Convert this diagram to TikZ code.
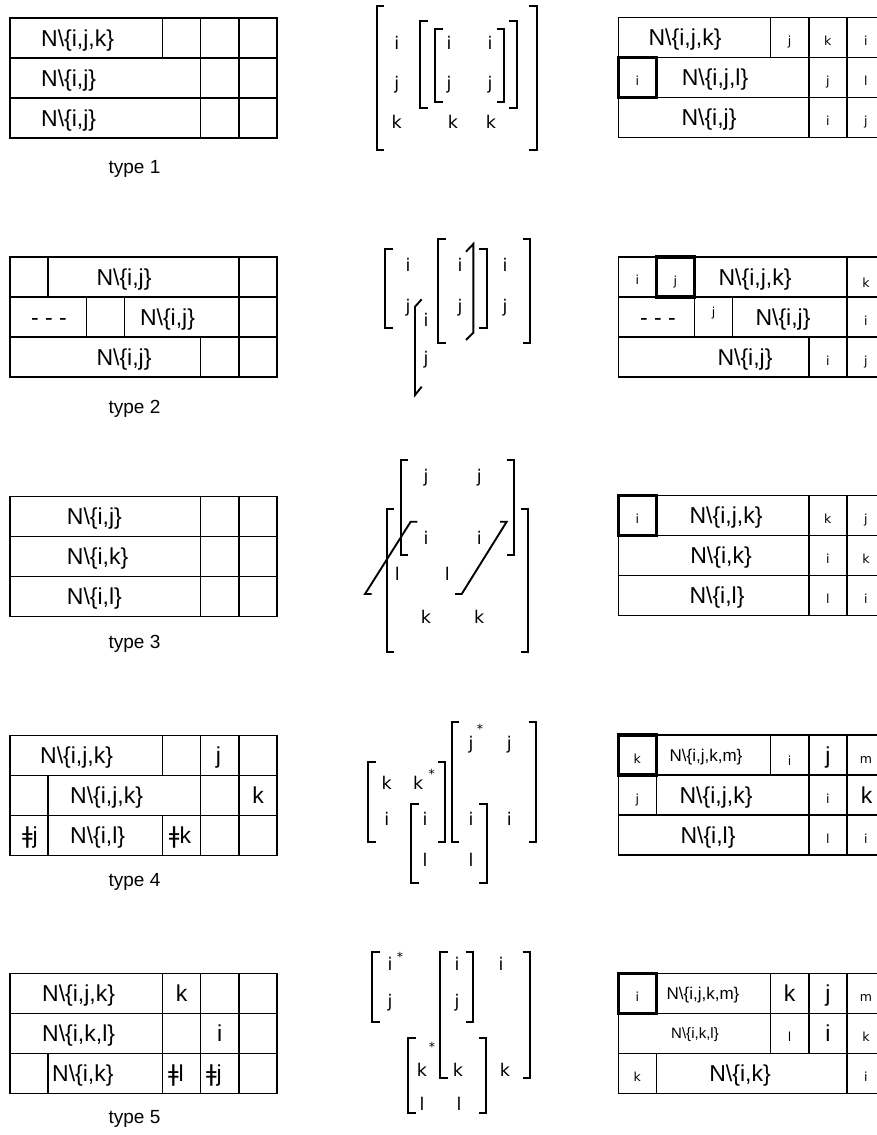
\documentclass[tikz,border=0pt]{standalone}
\usepackage{fontspec}
\setmainfont{Liberation Sans}
\newfontfamily\djv{DejaVu Sans}
\newcommand\Nset[1]{N\textbackslash\{#1\}}
\newcommand\lbr[3]{\draw[brk] (#1+7.5,#2) -- (#1,#2) -- (#1,#3) -- (#1+7.5,#3);}
\newcommand\rbr[3]{\draw[brk] (#1-7.5,#2) -- (#1,#2) -- (#1,#3) -- (#1-7.5,#3);}
\tikzset{
  tline/.style={line width=1.4pt},
  thkbox/.style={line width=3.4pt},
  brk/.style={line width=1.9pt},
  bigtxt/.style={font=\fontsize{23}{23}\selectfont, inner sep=0pt, text height=16.5pt, text depth=0pt},
  midtxt/.style={font=\fontsize{17}{17}\selectfont, inner sep=0pt, text height=12.2pt, text depth=0pt},
  smltxt/.style={font=\djv\fontsize{12.5}{12.5}\selectfont, inner sep=0pt, anchor=base},
  mxtxt/.style={font=\djv\fontsize{17.5}{17.5}\selectfont, inner sep=0pt, anchor=base},
  typelab/.style={font=\fontsize{19}{19}\selectfont, inner sep=0pt, anchor=base},
}
\begin{document}
\begin{tikzpicture}[x=1pt,y=-1pt]
\useasboundingbox (0,0) rectangle (877,1135);
\clip (0,0) rectangle (877,1135);
% ================= LEFT TABLES =================
\begin{scope}[shift={(0,18)}]
 \draw[tline] (10,0) rectangle (277,120) (10,40) -- (277,40) (10,80) -- (277,80)
   (162.6,0) -- (162.6,40) (200.7,0) -- (200.7,120) (238.9,0) -- (238.9,120);
 \node[bigtxt,anchor=west] (l1a) at (41,20) {\Nset{i,j,k}};
 \node[bigtxt,anchor=west] (l1b) at (41,60) {\Nset{i,j}};
 \node[bigtxt,anchor=west] (l1c) at (41,100) {\Nset{i,j}};
 \node[typelab] (t1) at (134.5,155.3) {type 1};
\end{scope}
\begin{scope}[shift={(0,257)}]
 \draw[tline] (10,0) rectangle (277,120) (10,40) -- (277,40) (10,80) -- (277,80)
   (48.1,0) -- (48.1,40) (238.9,0) -- (238.9,120)
   (86.3,40) -- (86.3,80) (124.4,40) -- (124.4,80) (200.7,80) -- (200.7,120);
 \node[bigtxt] (l2a) at (124,20) {\Nset{i,j}};
 \node[bigtxt] (l2b) at (49,60) {- - -};
 \node[bigtxt] (l2c) at (167.5,60) {\Nset{i,j}};
 \node[bigtxt] (l2d) at (124,100) {\Nset{i,j}};
 \node[typelab] (t2) at (134.5,156.3) {type 2};
\end{scope}
\begin{scope}[shift={(0,496.7)}]
 \draw[tline] (10,0) rectangle (277,120) (10,40) -- (277,40) (10,80) -- (277,80)
   (200.7,0) -- (200.7,120) (238.9,0) -- (238.9,120);
 \node[bigtxt,anchor=west] (l3a) at (66.7,20) {\Nset{i,j}};
 \node[bigtxt,anchor=west] (l3b) at (66.7,60) {\Nset{i,k}};
 \node[bigtxt,anchor=west] (l3c) at (66.7,100) {\Nset{i,l}};
 \node[typelab] (t3) at (134.5,151.6) {type 3};
\end{scope}
\begin{scope}[shift={(0,735.3)}]
 \draw[tline] (10,0) rectangle (277,120) (10,40) -- (277,40) (10,80) -- (277,80)
   (200.7,0) -- (200.7,120) (238.9,0) -- (238.9,120) (48.1,40) -- (48.1,120)
   (162.6,0) -- (162.6,40) (162.6,80) -- (162.6,120);
 \node[bigtxt,anchor=west] (l4a) at (40,20) {\Nset{i,j,k}};
 \node[bigtxt] (l4b) at (218.5,20) {j};
 \node[bigtxt,anchor=west] (l4c) at (70,60) {\Nset{i,j,k}};
 \node[bigtxt] (l4d) at (258,60) {k};
 \node[bigtxt] (l4e) at (30,100) {{\djv ǂ}j};
 \node[bigtxt,anchor=west] (l4f) at (70,100) {\Nset{i,l}};
 \node[bigtxt] (l4g) at (180,100) {{\djv ǂ}k};
 \node[typelab] (t4) at (134.5,151.4) {type 4};
\end{scope}
\begin{scope}[shift={(0,973.5)}]
 \draw[tline] (10,0) rectangle (277,120) (10,40) -- (277,40) (10,80) -- (277,80)
   (162.6,0) -- (162.6,120) (200.7,0) -- (200.7,120) (238.9,0) -- (238.9,120)
   (48.1,80) -- (48.1,120);
 \node[bigtxt,anchor=west] (l5a) at (42,20) {\Nset{i,j,k}};
 \node[bigtxt] (l5b) at (181.6,20) {k};
 \node[bigtxt,anchor=west] (l5c) at (42,60) {\Nset{i,k,l}};
 \node[bigtxt] (l5d) at (219.8,60) {i};
 \node[bigtxt,anchor=west] (l5e) at (52,100) {\Nset{i,k}};
 \node[bigtxt] (l5f) at (176,100) {{\djv ǂ}l};
 \node[bigtxt] (l5g) at (214,100) {{\djv ǂ}j};
 \node[typelab] (t5) at (134.5,150) {type 5};
\end{scope}
% ================= RIGHT TABLES =================
\begin{scope}[shift={(0,17.7)}]
 \draw[tline] (618.3,0) rectangle (885,120) (618.3,40) -- (885,40) (618.3,80) -- (885,80)
   (770.7,0) -- (770.7,40) (808.8,0) -- (808.8,120) (846.9,0) -- (846.9,120);
 \draw[thkbox] (618.3,40) rectangle (656.4,80);
 \node[bigtxt] (r1a) at (685,20) {\Nset{i,j,k}};
 \node[smltxt] (r1b) at (789.7,28) {j};
 \node[smltxt] (r1c) at (827.8,28) {k};
 \node[smltxt] (r1d) at (865.9,28) {i};
 \node[smltxt] (r1e) at (637.3,68) {i};
 \node[bigtxt] (r1f) at (715,60) {\Nset{i,j,l}};
 \node[smltxt] (r1g) at (827.8,68) {j};
 \node[smltxt] (r1h) at (865.9,68) {l};
 \node[bigtxt] (r1i) at (709,100) {\Nset{i,j}};
 \node[smltxt] (r1j) at (827.8,108) {i};
 \node[smltxt] (r1k) at (865.9,108) {j};
\end{scope}
\begin{scope}[shift={(0,257)}]
 \draw[tline] (618.3,0) rectangle (885,120) (618.3,40) -- (885,40) (618.3,80) -- (885,80)
   (846.9,0) -- (846.9,120) (694.5,40) -- (694.5,80) (732.6,40) -- (732.6,80)
   (808.8,80) -- (808.8,120);
 \draw[thkbox] (656.4,0) rectangle (694.5,40);
 \node[smltxt] (r2a) at (637.3,27) {i};
 \node[smltxt] (r2b) at (675.4,28) {j};
 \node[bigtxt] (r2c) at (755,20) {\Nset{i,j,k}};
 \node[smltxt] (r2d) at (865.9,30) {k};
 \node[bigtxt] (r2e) at (658,60) {- - -};
 \node[smltxt] (r2f) at (713.5,59) {j};
 \node[bigtxt] (r2g) at (783,60) {\Nset{i,j}};
 \node[smltxt] (r2h) at (865.9,68) {i};
 \node[bigtxt] (r2i) at (745,100) {\Nset{i,j}};
 \node[smltxt] (r2j) at (827.8,108) {i};
 \node[smltxt] (r2k) at (865.9,108) {j};
\end{scope}
\begin{scope}[shift={(0,495.7)}]
 \draw[tline] (618.3,0) rectangle (885,120) (618.3,40) -- (885,40) (618.3,80) -- (885,80)
   (808.8,0) -- (808.8,120) (846.9,0) -- (846.9,120);
 \draw[thkbox] (618.3,0) rectangle (656.4,40);
 \node[smltxt] (r3a) at (637.3,28) {i};
 \node[bigtxt] (r3b) at (726,20) {\Nset{i,j,k}};
 \node[smltxt] (r3c) at (827.8,28) {k};
 \node[smltxt] (r3d) at (865.9,28) {j};
 \node[bigtxt] (r3e) at (721,60) {\Nset{i,k}};
 \node[smltxt] (r3f) at (827.8,68) {i};
 \node[smltxt] (r3g) at (865.9,68) {k};
 \node[bigtxt] (r3h) at (717,100) {\Nset{i,l}};
 \node[smltxt] (r3i) at (827.8,108) {l};
 \node[smltxt] (r3j) at (865.9,108) {i};
\end{scope}
\begin{scope}[shift={(0,735)}]
 \draw[tline] (618.3,0) rectangle (885,120) (618.3,40) -- (885,40) (618.3,80) -- (885,80)
   (770.7,0) -- (770.7,40) (808.8,0) -- (808.8,120) (846.9,0) -- (846.9,120)
   (656.4,40) -- (656.4,80);
 \draw[thkbox] (618.3,0) rectangle (656.4,40);
 \node[smltxt] (r4a) at (637.3,28) {k};
 \node[midtxt] (r4b) at (706,20) {\Nset{i,j,k,m}};
 \node[smltxt] (r4c) at (789.7,30) {i};
 \node[bigtxt] (r4d) at (827.8,20) {j};
 \node[smltxt] (r4e) at (865.9,28) {m};
 \node[smltxt] (r4f) at (637.3,68) {j};
 \node[bigtxt] (r4g) at (716,60) {\Nset{i,j,k}};
 \node[smltxt] (r4h) at (827.8,68) {i};
 \node[bigtxt] (r4i) at (866.5,60) {k};
 \node[bigtxt] (r4j) at (708,100) {\Nset{i,l}};
 \node[smltxt] (r4k) at (827.8,108) {l};
 \node[smltxt] (r4l) at (865.9,108) {i};
\end{scope}
\begin{scope}[shift={(0,973.5)}]
 \draw[tline] (618.3,0) rectangle (885,120) (618.3,40) -- (885,40) (618.3,80) -- (885,80)
   (770.7,0) -- (770.7,80) (808.8,0) -- (808.8,80) (846.9,0) -- (846.9,120)
   (656.4,80) -- (656.4,120);
 \draw[thkbox] (618.3,0) rectangle (656.4,40);
 \node[smltxt] (r5a) at (637.3,28) {i};
 \node[midtxt] (r5b) at (703,20) {\Nset{i,j,k,m}};
 \node[bigtxt] (r5c) at (789.7,20) {k};
 \node[bigtxt] (r5d) at (827.8,20) {j};
 \node[smltxt] (r5e) at (865.9,28) {m};
 \node[midtxt,font=\fontsize{15}{15}\selectfont,text height=10.7pt] (r5f) at (695,60) {\Nset{i,k,l}};
 \node[smltxt] (r5g) at (789.7,68) {l};
 \node[bigtxt] (r5h) at (827.8,60) {i};
 \node[smltxt] (r5i) at (865.9,68) {k};
 \node[smltxt] (r5j) at (637.3,108) {k};
 \node[bigtxt] (r5k) at (740,100) {\Nset{i,k}};
 \node[smltxt] (r5l) at (865.9,108) {i};
\end{scope}
% ================= MATRICES =================
% type 1
\lbr{376.7}{5.7}{150} \rbr{536.7}{5.7}{150}
\lbr{420}{20.7}{108.3} \rbr{516.7}{20.7}{108.3}
\lbr{435}{29.3}{101.7} \rbr{504}{29.3}{101.7}
\node[mxtxt] (m1a) at (396.7,49.3) {i};
\node[mxtxt] (m1b) at (396.7,89.6) {j};
\node[mxtxt] (m1c) at (396.7,128.3) {k};
\node[mxtxt] (m1d) at (449,49.3) {i};
\node[mxtxt] (m1e) at (490,49.3) {i};
\node[mxtxt] (m1f) at (449,89.6) {j};
\node[mxtxt] (m1g) at (490,89.6) {j};
\node[mxtxt] (m1h) at (453,128.3) {k};
\node[mxtxt] (m1i) at (491,128.3) {k};
% type 2
\lbr{385}{249.3}{328.3} \rbr{486.7}{249.3}{328.3}
\lbr{438.3}{239.3}{342.7} \rbr{530}{239.3}{342.7}
\draw[brk] (466,251.7) -- (473.3,244) -- (473.3,332.7) -- (466,340);
\draw[brk] (421.7,299.3) -- (415,306.7) -- (415,395) -- (421.7,386.7);
\node[mxtxt] (m2a) at (408,271.7) {i};
\node[mxtxt] (m2b) at (408,312.5) {j};
\node[mxtxt] (m2c) at (460,271.7) {i};
\node[mxtxt] (m2d) at (460,312.5) {j};
\node[mxtxt] (m2e) at (505,271.7) {i};
\node[mxtxt] (m2f) at (505,312.5) {j};
\node[mxtxt] (m2g) at (426,326.7) {i};
\node[mxtxt] (m2h) at (426,364) {j};
% type 3
\lbr{400.7}{460}{555} \rbr{514}{460}{555}
\lbr{386.7}{509.3}{651.7} \rbr{528.3}{509.3}{651.7}
\draw[brk] (371.7,594) -- (365,594) -- (410.7,521.7) -- (417.3,521.7);
\draw[brk] (455,594) -- (461.7,594) -- (506.7,521.7) -- (500,521.7);
\node[mxtxt] (m3a) at (426,482.5) {j};
\node[mxtxt] (m3b) at (479.3,482.5) {j};
\node[mxtxt] (m3c) at (426,544) {i};
\node[mxtxt] (m3d) at (479.3,544) {i};
\node[mxtxt] (m3e) at (397.3,580) {l};
\node[mxtxt] (m3f) at (447.3,580) {l};
\node[mxtxt] (m3g) at (426,623.3) {k};
\node[mxtxt] (m3h) at (479.3,623.3) {k};
% type 4
\lbr{368.3}{761.7}{841.7} \rbr{445}{761.7}{841.7}
\lbr{451.7}{721.7}{841.7} \rbr{536}{721.7}{841.7}
\lbr{411}{804}{883.3} \rbr{486.7}{804}{883.3}
\node[mxtxt] (m4a) at (386.7,789.3) {k};
\node[mxtxt] (m4b) at (418.3,789.3) {k};
\node[smltxt,anchor=center] (m4c) at (431.7,774) {*};
\node[mxtxt] (m4d) at (386.7,825) {i};
\node[mxtxt] (m4e) at (425,825) {i};
\node[mxtxt] (m4f) at (425,866.7) {l};
\node[mxtxt] (m4g) at (471,749.5) {j};
\node[smltxt,anchor=center] (m4h) at (480,729) {*};
\node[mxtxt] (m4i) at (509.3,749.5) {j};
\node[mxtxt] (m4j) at (471,825) {i};
\node[mxtxt] (m4k) at (509.3,825) {i};
\node[mxtxt] (m4l) at (471,866.7) {l};
% type 5
\lbr{372}{952}{1021.7}
\lbr{440}{952}{1078.3} \rbr{473}{952}{1021.7}
\rbr{530}{952}{1078.3}
\lbr{408}{1038}{1113} \rbr{486}{1038}{1113}
\node[mxtxt] (m5a) at (390,970) {i};
\node[smltxt,anchor=center] (m5b) at (400,957) {*};
\node[mxtxt] (m5c) at (390,1007) {j};
\node[mxtxt] (m5d) at (457,970) {i};
\node[mxtxt] (m5e) at (457,1007) {j};
\node[mxtxt] (m5f) at (501,970) {i};
\node[mxtxt] (m5g) at (422,1076.7) {k};
\node[smltxt,anchor=center] (m5h) at (432,1047) {*};
\node[mxtxt] (m5i) at (458,1076.7) {k};
\node[mxtxt] (m5j) at (505,1076.7) {k};
\node[mxtxt] (m5k) at (422,1110) {l};
\node[mxtxt] (m5l) at (459,1110) {l};
\end{tikzpicture}
\end{document}
